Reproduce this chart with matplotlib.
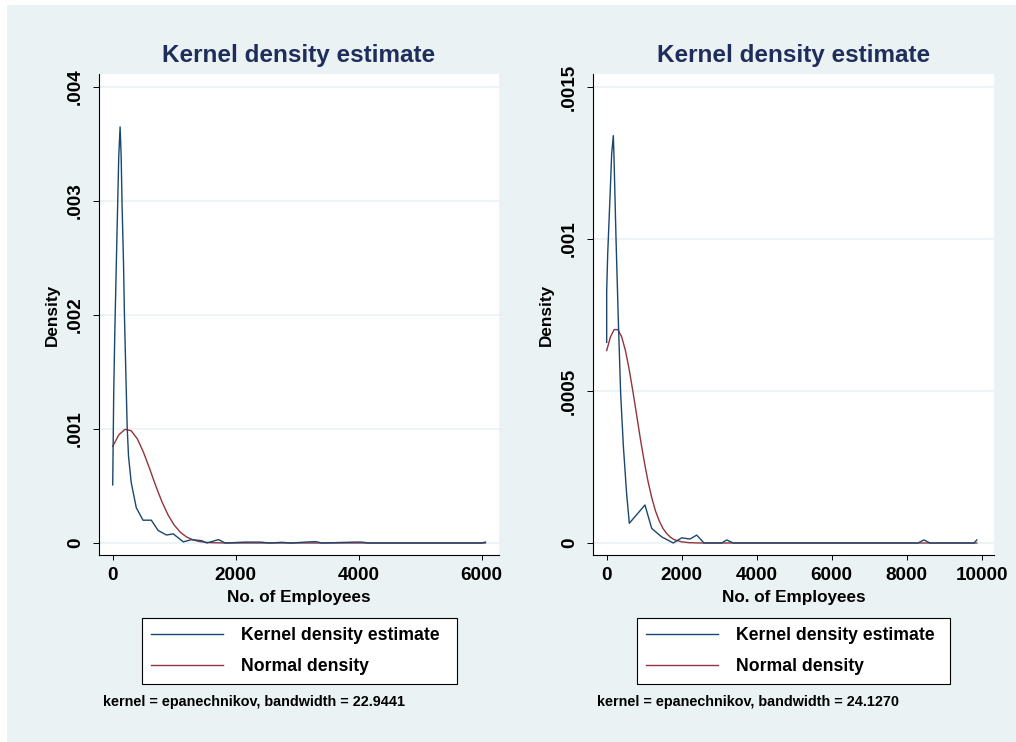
import matplotlib
matplotlib.use('Agg')
import matplotlib.pyplot as plt
from matplotlib.patches import Rectangle

plt.rcParams['font.family'] = ['Liberation Sans', 'DejaVu Sans']
plt.rcParams['font.weight'] = 'bold'

# ---------------- data ----------------
# Left panel
left_kde_x = [0, 16, 33, 54, 76, 98, 120, 137, 153, 175, 191, 213, 235, 257, 301, 383,
              492, 628, 738, 874, 984, 1148, 1285, 1448, 1530, 1721, 1830, 2000, 2150,
              2400, 2550, 2750, 2900, 3200, 3300, 3400, 3950, 4050, 4150, 6000, 6060]
left_kde_y = [0.00051, 0.0013, 0.00182, 0.00234, 0.00286, 0.00339, 0.00365, 0.0034,
              0.00294, 0.00247, 0.00199, 0.0015, 0.00102, 0.00076, 0.00053, 0.00031,
              0.0002, 0.0002, 0.00011, 0.00007, 0.00008, 0.00001, 0.00003, 0.00002,
              0.0, 0.00003, 0.0, 0.000004, 0.000008, 0.000008, 0.0, 0.000006, 0.0,
              0.00001, 0.000012, 0.0, 0.000008, 0.000008, 0.0, 0.0, 0.000008]
left_norm_x = [0, 100, 200, 300, 400, 500, 600, 700, 800, 900, 1000, 1100, 1200, 1300,
               1400, 1500, 1600, 1800, 2000, 6060]
left_norm_y = [0.000848, 0.000949, 0.000997, 0.000985, 0.000914, 0.000796, 0.000652,
               0.000501, 0.000362, 0.000246, 0.000157, 0.000094, 0.000053, 0.000028,
               0.000014, 0.0000065, 0.0000028, 0.0000004, 0.0, 0.0]

# Right panel
right_kde_x = [0, 0, 27, 89, 133, 177, 195, 249, 311, 373, 444, 533, 604, 1021, 1200,
               1467, 1777, 2000, 2222, 2400, 2595, 3067, 3200, 3377, 8300, 8460, 8620,
               9800, 9870]
right_kde_y = [0.00066, 0.00083, 0.00095, 0.00114, 0.00128, 0.00134, 0.00127, 0.001,
               0.00073, 0.00049, 0.00032, 0.00016, 0.000065, 0.000125, 0.000048,
               0.00002, 0.0, 0.000017, 0.000013, 0.000026, 0.0, 0.0, 0.00001, 0.0,
               0.0, 0.00001, 0.0, 0.0, 0.00001]
right_norm_x = [0, 100, 200, 300, 400, 500, 600, 700, 800, 900, 1000, 1100, 1200, 1300,
                1400, 1500, 1600, 1700, 1800, 2000, 2200, 2500, 9870]
right_norm_y = [0.000633, 0.000678, 0.000702, 0.000702, 0.000678, 0.000633, 0.000571,
                0.000498, 0.00042, 0.000341, 0.000269, 0.000204, 0.00015, 0.000106,
                0.000073, 0.000048, 0.000031, 0.000019, 0.000011, 0.0000037, 0.000001,
                0.0, 0.0]

left_xticks = [0, 2000, 4000, 6000]
left_xticklabels = ['0', '2000', '4000', '6000']
left_yticks = [0, 0.001, 0.002, 0.003, 0.004]
left_yticklabels = ['0', '.001', '.002', '.003', '.004']
right_xticks = [0, 2000, 4000, 6000, 8000, 10000]
right_xticklabels = ['0', '2000', '4000', '6000', '8000', '10000']
right_yticks = [0, 0.0005, 0.001, 0.0015]
right_yticklabels = ['0', '.0005', '.001', '.0015']

title_text = 'Kernel density estimate'
xlabel_text = 'No. of Employees'
ylabel_text = 'Density'
legend_labels = ['Kernel density estimate', 'Normal density']
left_note = 'kernel = epanechnikov, bandwidth = 22.9441'
right_note = 'kernel = epanechnikov, bandwidth = 24.1270'

# ---------------- styling ----------------
W, H = 1016, 742
BG = '#eaf2f3'
KDE_C = '#1a476f'
NORM_C = '#90353b'
TITLE_C = '#1f2d5b'


def fx(px):
    return px / W


def fy(py):
    return 1 - py / H


fig = plt.figure(figsize=(W / 100, H / 100), dpi=100, facecolor='white')
fig.patches.append(Rectangle((fx(7), 0), 1 - fx(7), fy(5), transform=fig.transFigure,
                             facecolor=BG, edgecolor='none', zorder=-10))

panels = [
    dict(left=99, right=499, xlim=(-223, 6281), ylim=(-0.0001053, 0.004114),
         kx=left_kde_x, ky=left_kde_y, nx=left_norm_x, ny=left_norm_y,
         xt=left_xticks, xtl=left_xticklabels, yt=left_yticks, ytl=left_yticklabels,
         note=left_note, note_x=103, leg=(142, 457), ylab_x=52),
    dict(left=593, right=994, xlim=(-365, 10329), ylim=(-0.0000395, 0.0015428),
         kx=right_kde_x, ky=right_kde_y, nx=right_norm_x, ny=right_norm_y,
         xt=right_xticks, xtl=right_xticklabels, yt=right_yticks, ytl=right_yticklabels,
         note=right_note, note_x=597, leg=(637, 950), ylab_x=546),
]

top, bottom = 74, 555
for p in panels:
    ax = fig.add_axes([fx(p['left']), fy(bottom), (p['right'] - p['left']) / W,
                       (bottom - top) / H])
    ax.set_facecolor('white')
    ax.set_xlim(*p['xlim'])
    ax.set_ylim(*p['ylim'])
    for s in ['top', 'right']:
        ax.spines[s].set_visible(False)
    for s in ['left', 'bottom']:
        ax.spines[s].set_color('black')
        ax.spines[s].set_linewidth(0.8)
    for yv in p['yt']:
        ax.axhline(yv, color=BG, lw=1.2, zorder=0)
    l1, = ax.plot(p['kx'], p['ky'], color=KDE_C, lw=1.0, zorder=3)
    l2, = ax.plot(p['nx'], p['ny'], color=NORM_C, lw=1.0, zorder=2)
    ax.set_xticks(p['xt'], p['xtl'])
    ax.set_yticks(p['yt'], p['ytl'], rotation=90, va='center')
    ax.tick_params(axis='x', length=3.6, width=0.7, pad=5, labelsize=13.6)
    ax.tick_params(axis='y', length=4.3, width=0.7, pad=6.5, labelsize=13.6)

    cx = (p['left'] + p['right']) / 2
    fig.text(fx(cx), fy(62), title_text, ha='center', va='baseline',
             fontsize=17.5, color=TITLE_C)
    fig.text(fx(cx), fy(602), xlabel_text, ha='center', va='baseline',
             fontsize=12.3, color='black')
    fig.text(fx(p['ylab_x']), fy((top + bottom) / 2), ylabel_text, rotation=90,
             ha='center', va='center', fontsize=12.3, color='black')

    lx0, lx1 = p['leg']
    leg = fig.legend([l1, l2], legend_labels, loc='center',
                     bbox_to_anchor=(fx(lx0), fy(684), (lx1 - lx0) / W, 66 / H),
                     mode='expand', borderaxespad=0, fancybox=False,
                     edgecolor='black', framealpha=1, facecolor='white',
                     prop={'size': 12.7, 'weight': 'bold'},
                     handlelength=4.1, handletextpad=1.0, borderpad=0.5,
                     labelspacing=0.78)
    leg.get_frame().set_linewidth(0.8)

    fig.text(fx(p['note_x']), fy(706), p['note'], ha='left', va='baseline',
             fontsize=10.4, color='black')

fig.savefig('out.png', dpi=100, facecolor=fig.get_facecolor())
